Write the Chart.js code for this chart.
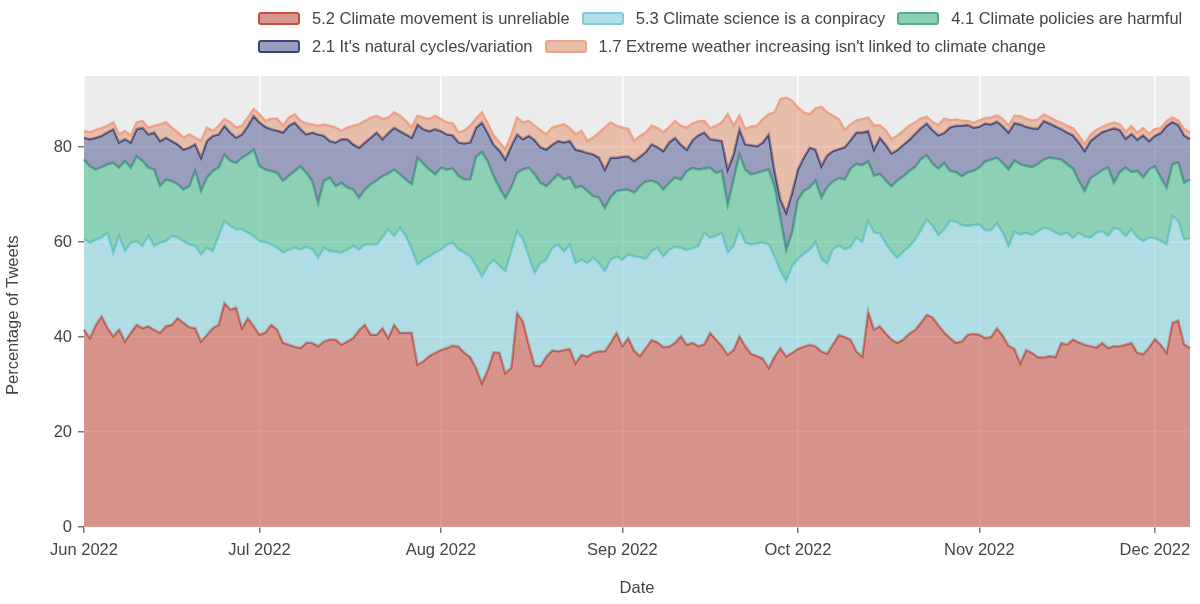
<!DOCTYPE html>
<html>
<head>
<meta charset="utf-8">
<title>Percentage of Tweets by claim</title>
<script src="https://cdn.jsdelivr.net/npm/chart.js@4.4.0/dist/chart.umd.min.js"></script>
<style>
  body { margin: 0; background: #fff; }
  #wrap { position: relative; width: 1200px; height: 604px; }
  #legend { position: absolute; left: 258px; top: 4px; font: 16.5px 'Liberation Sans', Arial, sans-serif; color: #444; }
  .row { display: flex; align-items: center; height: 28px; white-space: nowrap; }
  .item { display: flex; align-items: center; margin-right: 12px; }
  .swatch { width: 38px; height: 9px; border: 2px solid; border-radius: 3px; margin-right: 12px; }
</style>
</head>
<body>
<div id="wrap">
  <canvas id="myChart" width="1200" height="604"></canvas>
  <div id="legend"></div>
</div>
<script>
// daily series starting 1 Jun 2022
const startDate = [2022, 5, 1];
const monthNames = ['Jan', 'Feb', 'Mar', 'Apr', 'May', 'Jun', 'Jul', 'Aug', 'Sep', 'Oct', 'Nov', 'Dec'];
const yTicks = [0, 20, 40, 60, 80];

const seriesNames = [
    '5.2 Climate movement is unreliable',
    '5.3 Climate science is a conpiracy',
    '4.1 Climate policies are harmful',
    "2.1 It's natural cycles/variation",
    "1.7 Extreme weather increasing isn't linked to climate change"
];

// each array is the top edge of its band in the stacked chart (running total, %)
const movementUnreliable = [
    41.6, 39.8, 42.5, 44.4, 42.0, 40.2, 41.6, 39.1, 40.9, 42.6,
    41.9, 42.3, 41.5, 40.9, 42.3, 42.6, 44.0, 43.0, 42.1, 41.9,
    39.1, 40.5, 41.9, 42.6, 47.2, 45.8, 46.2, 41.9, 44.0, 42.3,
    40.5, 41.0, 42.6, 41.6, 38.8, 38.4, 38.0, 37.7, 38.8, 38.8,
    38.1, 39.1, 39.5, 39.5, 38.4, 39.1, 39.8, 41.5, 42.6, 40.5,
    40.5, 41.9, 39.8, 42.6, 40.9, 40.9, 40.9, 34.2, 34.9, 36.0,
    36.7, 37.3, 37.7, 38.2, 38.0, 36.7, 35.8, 33.5, 30.3, 33.1,
    36.8, 36.7, 32.4, 33.5, 45.1, 43.3, 38.5, 34.0, 33.9, 35.9,
    37.2, 37.0, 37.3, 37.5, 34.5, 36.3, 35.9, 36.7, 37.0, 37.0,
    38.8, 40.9, 38.1, 39.8, 37.2, 36.0, 37.7, 39.4, 38.9, 37.9,
    38.0, 38.8, 40.2, 38.4, 38.8, 38.1, 38.5, 40.9, 39.5, 38.1,
    36.3, 37.3, 40.2, 38.1, 36.5, 36.0, 35.5, 33.5, 35.9, 37.7,
    35.9, 36.7, 37.5, 38.0, 38.4, 38.1, 37.0, 36.5, 38.5, 40.5,
    40.0, 39.5, 37.0, 35.9, 45.4, 41.6, 42.3, 40.8, 39.5, 38.8,
    39.5, 40.7, 41.5, 43.0, 44.7, 44.2, 42.5, 41.0, 39.8, 38.8,
    39.1, 40.5, 40.7, 40.5, 39.8, 40.0, 41.9, 40.3, 38.2, 37.5,
    34.5, 37.3, 36.7, 35.8, 35.7, 36.0, 35.8, 38.8, 38.4, 39.5,
    38.9, 38.4, 38.1, 37.8, 38.8, 37.7, 38.1, 38.1, 38.4, 38.8,
    36.7, 36.4, 37.8, 39.6, 38.4, 36.7, 43.0, 43.5, 38.5, 37.7
];
const scienceConspiracy = [
    60.6, 59.9, 60.5, 61.0, 62.0, 57.8, 61.3, 58.1, 59.9, 60.2,
    59.2, 61.3, 59.2, 59.9, 60.2, 61.3, 61.0, 60.2, 59.5, 59.2,
    57.4, 58.8, 58.1, 61.3, 64.4, 63.4, 62.7, 62.7, 62.0, 61.3,
    60.2, 60.0, 59.5, 58.8, 57.8, 58.4, 58.8, 58.4, 59.0, 58.5,
    56.7, 58.8, 58.1, 58.0, 57.8, 58.4, 59.2, 58.4, 59.5, 59.5,
    59.5, 61.0, 62.7, 61.3, 63.0, 61.3, 58.5, 55.3, 56.3, 57.0,
    57.8, 58.4, 59.5, 59.9, 58.5, 57.8, 57.0, 55.0, 52.8, 55.0,
    56.3, 55.0, 53.9, 58.0, 62.3, 60.6, 57.0, 53.5, 55.6, 56.3,
    58.8, 59.5, 58.0, 59.5, 55.6, 56.3, 55.6, 56.7, 55.6, 53.9,
    56.3, 57.0, 56.3, 57.4, 57.0, 56.8, 56.5, 58.1, 58.8, 57.0,
    58.4, 59.0, 58.8, 58.3, 58.7, 59.2, 62.0, 60.9, 61.3, 62.0,
    57.8, 59.2, 62.7, 59.9, 59.5, 59.7, 59.9, 59.5, 57.0, 54.0,
    51.8, 54.9, 56.5, 57.5, 58.4, 60.0, 56.5, 55.5, 58.5, 59.3,
    58.5, 59.0, 61.0, 60.0, 64.5, 62.0, 61.8, 59.8, 58.0, 56.7,
    58.0, 59.0, 60.5, 62.5, 64.8, 63.4, 61.5, 62.7, 64.5, 64.3,
    63.6, 63.4, 63.6, 63.7, 62.5, 62.5, 64.0, 62.0, 59.2, 62.2,
    61.6, 62.0, 61.5, 62.3, 63.0, 62.8, 62.0, 61.6, 62.0, 60.9,
    62.0, 61.2, 61.0, 62.0, 62.3, 61.4, 63.0, 62.7, 61.3, 62.7,
    61.0, 60.2, 61.0, 60.8, 60.3, 59.5, 65.5, 64.5, 60.5, 60.9
];
const policiesHarmful = [
    77.4, 76.0, 75.3, 75.8, 76.4, 76.7, 75.7, 77.1, 75.7, 78.1,
    77.1, 75.7, 75.3, 71.8, 73.2, 72.9, 72.2, 71.1, 71.8, 75.0,
    70.8, 73.6, 75.0, 75.7, 78.5, 77.1, 76.7, 77.8, 78.5, 79.5,
    76.0, 75.3, 75.0, 74.6, 72.9, 74.0, 75.0, 76.0, 74.6, 72.9,
    68.3, 72.9, 73.6, 71.8, 72.5, 71.5, 71.1, 69.4, 71.1, 72.2,
    73.0, 73.9, 74.5, 75.3, 74.3, 73.2, 72.2, 77.8, 76.5, 75.3,
    74.3, 75.7, 75.3, 75.5, 74.0, 73.2, 73.2, 78.0, 79.0, 77.0,
    73.9, 71.5, 69.3, 71.5, 74.6, 75.3, 75.7, 74.3, 72.5, 71.8,
    73.0, 74.3, 73.2, 73.6, 71.5, 71.8, 70.8, 69.7, 69.4, 67.2,
    69.5, 70.8, 71.0, 71.1, 70.4, 71.8, 72.8, 73.0, 72.5, 71.1,
    72.5, 73.6, 73.2, 75.0, 75.6, 75.3, 75.5, 75.7, 74.6, 75.0,
    67.9, 73.2, 78.5, 75.3, 74.3, 74.6, 75.0, 75.3, 71.8, 65.1,
    58.4, 62.0, 69.0, 70.8, 71.5, 73.0, 69.4, 71.6, 72.8, 73.5,
    73.2, 75.5, 76.5, 76.2, 77.0, 74.0, 74.4, 73.0, 71.8, 73.0,
    73.9, 75.0, 75.8, 77.5, 78.3, 76.6, 75.5, 76.7, 75.0, 74.8,
    73.9, 74.7, 75.0, 75.7, 77.0, 77.4, 77.8, 76.7, 75.3, 77.2,
    76.4, 76.1, 75.8, 76.5, 77.4, 77.8, 77.6, 77.4, 76.4, 75.5,
    72.9, 70.8, 73.5, 74.3, 75.2, 75.7, 72.5, 74.8, 75.7, 74.8,
    75.0, 73.6, 75.3, 76.0, 73.6, 71.5, 76.4, 76.8, 72.5, 73.2
];
const naturalCycles = [
    82.0, 81.7, 82.0, 82.4, 83.1, 83.8, 81.0, 81.7, 81.0, 83.8,
    84.1, 82.7, 83.1, 81.3, 82.0, 81.3, 80.6, 79.5, 79.9, 80.6,
    77.8, 81.3, 82.4, 82.7, 84.5, 83.1, 82.0, 82.7, 84.5, 86.6,
    85.2, 84.3, 83.8, 83.5, 83.1, 84.5, 85.2, 83.8, 82.7, 83.1,
    82.7, 82.4, 81.3, 81.0, 81.7, 81.7, 80.6, 79.9, 81.0, 82.0,
    83.1, 81.7, 83.0, 84.1, 83.4, 82.7, 82.0, 84.8, 83.8, 83.4,
    83.8, 83.4, 82.7, 82.5, 81.0, 80.8, 81.0, 84.1, 85.2, 83.0,
    80.5, 79.3, 77.4, 80.2, 82.7, 81.7, 82.4, 81.5, 80.0, 79.5,
    80.5, 81.3, 81.0, 81.3, 79.5, 79.2, 78.8, 78.5, 77.8, 75.3,
    77.8, 77.8, 78.0, 78.1, 77.1, 78.0, 79.0, 80.6, 80.0, 79.2,
    81.0, 82.0, 80.5, 79.5, 81.5, 82.5, 83.1, 81.7, 81.5, 81.3,
    75.3, 78.5, 83.8, 80.6, 80.4, 80.2, 81.0, 82.7, 75.0, 69.0,
    66.2, 70.4, 75.3, 77.8, 79.9, 79.5, 76.0, 78.3, 79.2, 79.6,
    80.0, 81.5, 83.1, 83.1, 83.4, 79.5, 82.0, 80.5, 78.7, 79.4,
    80.5, 81.5, 82.8, 84.0, 85.0, 83.6, 82.5, 83.0, 84.2, 84.5,
    84.5, 84.7, 84.1, 84.3, 85.0, 84.8, 85.4, 84.4, 83.1, 85.1,
    84.8, 84.3, 84.0, 83.9, 85.5, 85.0, 84.4, 83.8, 83.1, 82.5,
    81.0, 79.2, 81.3, 82.3, 83.2, 83.6, 84.0, 83.6, 81.8, 82.8,
    81.6, 82.5, 81.3, 82.4, 83.0, 84.5, 85.3, 84.7, 82.5, 81.7
];
const extremeWeather = [
    83.4, 83.1, 83.6, 84.0, 84.5, 85.2, 82.7, 83.4, 82.4, 85.2,
    85.5, 84.1, 84.5, 84.8, 85.2, 84.1, 83.1, 82.0, 82.7, 82.0,
    81.3, 84.1, 83.4, 84.5, 85.9, 85.2, 84.1, 84.5, 86.2, 88.0,
    86.9, 85.5, 86.0, 86.0, 84.5, 86.2, 86.9, 85.5, 85.0, 84.8,
    84.5, 84.8, 84.5, 84.1, 83.4, 84.1, 84.5, 84.8, 85.5, 86.2,
    86.6, 85.9, 86.2, 87.3, 86.6, 85.5, 84.1, 86.6, 86.2, 85.9,
    86.6, 85.9, 85.2, 85.0, 83.1, 83.5, 84.5, 86.0, 87.3, 85.0,
    82.4, 81.0, 79.5, 82.5, 86.2, 85.2, 85.5, 84.5, 83.5, 82.7,
    84.1, 84.5, 84.8, 84.0, 82.7, 83.4, 81.3, 82.0, 83.0, 84.1,
    85.2, 84.5, 84.1, 83.8, 81.3, 82.3, 83.1, 84.5, 84.0, 83.1,
    84.2, 85.5, 84.5, 84.1, 85.0, 85.4, 85.5, 84.0, 84.5, 85.2,
    86.9, 84.5, 86.6, 83.8, 84.3, 84.5, 85.9, 86.9, 87.3, 90.1,
    90.4, 89.8, 88.3, 87.3, 86.9, 88.2, 88.5, 87.3, 86.6, 85.8,
    83.6, 84.8, 85.6, 85.9, 86.2, 84.5, 84.6, 83.5, 81.7, 82.4,
    83.4, 84.5, 85.2, 86.0, 86.4, 85.3, 84.6, 86.0, 85.7, 85.8,
    85.6, 85.5, 85.1, 85.6, 86.1, 86.2, 86.7, 85.9, 84.5, 86.6,
    86.5, 86.0, 85.6, 85.8, 86.9, 86.3, 85.6, 85.1, 84.5, 84.0,
    82.4, 80.6, 82.6, 83.6, 84.3, 84.8, 85.2, 84.8, 83.2, 84.4,
    83.0, 84.0, 82.8, 83.8, 84.0, 85.5, 86.2, 85.6, 83.8, 83.1
];

const bands = [movementUnreliable, scienceConspiracy, policiesHarmful, naturalCycles, extremeWeather];
const lineColors = ['rgb(200,78,62)', 'rgb(125,202,218)', 'rgb(82,172,136)', 'rgb(58,70,122)', 'rgb(236,163,136)'];
const fillColors = ['rgba(199,89,76,0.6)', 'rgba(136,211,223,0.6)', 'rgba(76,190,146,0.6)', 'rgba(96,106,156,0.6)', 'rgba(229,159,129,0.6)'];
const swatchColors = ['rgb(216,150,142)', 'rgb(178,222,229)', 'rgb(140,208,180)', 'rgb(152,158,188)', 'rgb(232,190,172)'];

const dates = movementUnreliable.map((v, i) => new Date(startDate[0], startDate[1], startDate[2] + i));
const labels = dates.map(d => d.toISOString().slice(0, 10));

// html legend, two rows like the original
const legendRows = [[0, 1, 2], [3, 4]];
const legendEl = document.getElementById('legend');
legendRows.forEach(row => {
    const rowEl = document.createElement('div');
    rowEl.className = 'row';
    row.forEach(i => {
        const item = document.createElement('div');
        item.className = 'item';
        const sw = document.createElement('span');
        sw.className = 'swatch';
        sw.style.background = swatchColors[i];
        sw.style.borderColor = lineColors[i];
        item.appendChild(sw);
        item.appendChild(document.createTextNode(seriesNames[i]));
        rowEl.appendChild(item);
    });
    legendEl.appendChild(rowEl);
});

const plotBackground = {
    id: 'plotBackground',
    beforeDraw(chart) {
        const { ctx, chartArea } = chart;
        ctx.save();
        ctx.fillStyle = '#ececec';
        ctx.fillRect(chartArea.left, chartArea.top, chartArea.width, chartArea.height);
        ctx.restore();
    }
};

Chart.defaults.font.family = "'Liberation Sans', Arial, sans-serif";
Chart.defaults.font.size = 16.5;
Chart.defaults.color = '#444';

const config = {
    type: 'line',
    data: {
        labels: labels,
        datasets: bands.map((vals, i) => ({
            label: seriesNames[i],
            data: vals,
            borderColor: lineColors[i],
            backgroundColor: fillColors[i],
            borderWidth: 2.5,
            pointRadius: 0,
            tension: 0,
            fill: i === 0 ? 'origin' : '-1',
            order: bands.length - i
        }))
    },
    options: {
        responsive: false,
        animation: false,
        layout: { padding: { top: 76, right: 10, left: 0, bottom: 0 } },
        plugins: {
            legend: { display: false },
            tooltip: { enabled: false }
        },
        scales: {
            x: {
                type: 'category',
                afterBuildTicks: scale => {
                    // only the first day of each month gets a tick
                    scale.ticks = scale.ticks.filter(t => dates[t.value].getDate() === 1);
                },
                afterFit: scale => { scale.height = 77; },
                ticks: {
                    autoSkip: false,
                    maxRotation: 0,
                    padding: 8,
                    callback: value => monthNames[dates[value].getMonth()] + ' ' + dates[value].getFullYear()
                },
                grid: { color: '#ffffff', lineWidth: 1.5, tickColor: '#777', tickLength: 6 },
                border: { display: false },
                title: { display: true, text: 'Date', padding: { top: 0, bottom: 6 } }
            },
            y: {
                min: 0,
                max: 95,
                afterBuildTicks: scale => {
                    scale.ticks = yTicks.map(v => ({ value: v }));
                },
                afterFit: scale => { scale.width = 84; },
                ticks: { padding: 6 },
                grid: { color: '#ffffff', lineWidth: 1.5, tickColor: '#777', tickLength: 6 },
                border: { display: false },
                title: {
                    display: true,
                    text: 'Percentage of Tweets      ', // trailing spaces nudge the title down like the original
                    padding: { top: 4, bottom: 0 }
                }
            }
        }
    },
    plugins: [plotBackground]
};

window.myChart = new Chart(document.getElementById('myChart'), config);
</script>
</body>
</html>
